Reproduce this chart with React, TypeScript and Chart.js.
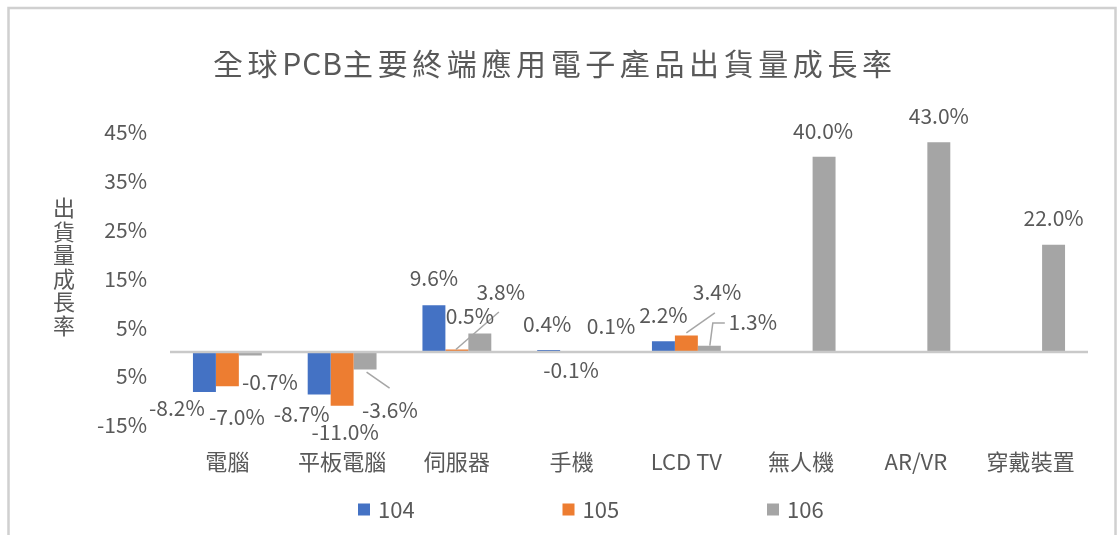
import React, { useEffect, useRef } from "react";
import { Chart, registerables } from "chart.js";

Chart.register(...registerables);

// ---- data ----
const categories = ["電腦", "平板電腦", "伺服器", "手機", "LCD TV", "無人機", "AR/VR", "穿戴裝置"];
const seriesNames = ["104", "105", "106"];
const values104: (number | null)[] = [-8.2, -8.7, 9.6, 0.4, 2.2, null, null, null];
const values105: (number | null)[] = [-7.0, -11.0, 0.5, -0.1, 3.4, null, null, null];
const values106: (number | null)[] = [-0.7, -3.6, 3.8, 0.1, 1.3, 40.0, 43.0, 22.0];
// tick labels as printed in the picture (bottom to top)
const yTickLabels = ["-15%", "5%", "5%", "15%", "25%", "35%", "45%"];
const chartTitle = "全球PCB主要終端應用電子產品出貨量成長率";
const yAxisTitle = "出貨量成長率";

// ---- styling / label layout ----
const FONT = "'Noto Sans CJK TC', 'Noto Sans', sans-serif";
const TEXT = "#595959";
const colors = ["#4472C4", "#ED7D31", "#A5A5A5"];

// data-label offsets (dx, dy) from the bar end, per series
const labelOffsets104 = [[-27.5, 16], [-17.5, 19.5], [0, -27], [-1.5, -26], [0, -26], null, null, null];
const labelOffsets105 = [[9.6, 31], [3, 26], [13, -33.6], [-0.6, 17.5], [30.6, -43.4], null, null, null];
const labelOffsets106 = [[19.6, 26.6], [24.8, 40.4], [21, -41.5], [16.4, -25.5], [43.5, -23.7], [-1, -25.8], [0, -26], [0, -27]];
const labelOffsets = [labelOffsets104, labelOffsets105, labelOffsets106];

// leader lines (relative to bar end)
const leaderLines = [
  { ds: 2, i: 1, pts: [[1.5, 2.5], [24.5, 18.5]] },
  { ds: 1, i: 2, pts: [[-1, 0], [42, -37.6]] },
  { ds: 1, i: 4, pts: [[0, -2.5], [28.5, -22.5]] },
  { ds: 2, i: 4, pts: [[0.5, 0], [3.5, -22.7], [15.5, -22.7]] },
];

const fmt = (v: number) => v.toFixed(1) + "%";

const decorPlugin = {
  id: "decor",
  beforeDraw(chart: any) {
    const { ctx, width, height } = chart;
    ctx.save();
    ctx.fillStyle = "#ffffff";
    ctx.fillRect(0, 0, width, height);
    ctx.strokeStyle = "#D0D0D0";
    ctx.lineWidth = 2.5;
    ctx.strokeRect(8.5, 8, 1107, 600);
    ctx.restore();
  },
  afterDatasetsDraw(chart: any) {
    const { ctx, chartArea } = chart;
    const y0 = chart.scales.y.getPixelForValue(0);
    ctx.save();
    // zero line
    ctx.strokeStyle = "#C9C9C9";
    ctx.lineWidth = 2.5;
    ctx.beginPath();
    ctx.moveTo(chartArea.left, y0);
    ctx.lineTo(chartArea.right, y0);
    ctx.stroke();

    // leader lines
    ctx.strokeStyle = "#A6A6A6";
    ctx.lineWidth = 1.5;
    for (const l of leaderLines) {
      const el = chart.getDatasetMeta(l.ds).data[l.i];
      if (!el) continue;
      ctx.beginPath();
      l.pts.forEach(([dx, dy], k) => {
        if (k === 0) ctx.moveTo(el.x + dx, el.y + dy);
        else ctx.lineTo(el.x + dx, el.y + dy);
      });
      ctx.stroke();
    }

    // data labels
    ctx.font = `21px ${FONT}`;
    ctx.fillStyle = TEXT;
    ctx.textAlign = "center";
    ctx.textBaseline = "middle";
    chart.data.datasets.forEach((ds: any, di: number) => {
      const meta = chart.getDatasetMeta(di);
      meta.data.forEach((el: any, i: number) => {
        const v = ds.data[i];
        const off = labelOffsets[di][i];
        if (v == null || !off) return;
        ctx.fillText(fmt(v), el.x + off[0], el.y + off[1]);
      });
    });
    ctx.restore();
  },
  afterDraw(chart: any) {
    const { ctx } = chart;
    ctx.save();
    ctx.fillStyle = TEXT;
    ctx.textBaseline = "middle";

    // title, drawn char by char with spacing (wider gaps for CJK glyphs)
    ctx.font = `30px ${FONT}`;
    ctx.textAlign = "left";
    let x = 213;
    for (const ch of chartTitle) {
      ctx.fillText(ch, x, 64);
      const isLatin = /[A-Za-z0-9]/.test(ch);
      x += ctx.measureText(ch).width + (isLatin ? 1 : 4.6);
    }

    // vertical y-axis title (stacked)
    ctx.font = `22px ${FONT}`;
    ctx.textAlign = "center";
    Array.from(yAxisTitle).forEach((ch, i) => {
      ctx.fillText(ch, 64, 207.7 + 23.5 * i);
    });

    // legend
    ctx.font = `22px ${FONT}`;
    ctx.textAlign = "left";
    seriesNames.forEach((name, i) => {
      const lx = 358 + 204.5 * i;
      ctx.fillStyle = colors[i];
      ctx.fillRect(lx, 503.5, 12, 12);
      ctx.fillStyle = TEXT;
      ctx.fillText(name, lx + 20, 509.5);
    });
    ctx.restore();
  },
};

export default function App() {
  const ref = useRef<HTMLCanvasElement | null>(null);
  useEffect(() => {
    if (!ref.current) return;
    const chart = new Chart(ref.current, {
      type: "bar",
      data: {
        labels: categories,
        datasets: [values104, values105, values106].map((d, i) => ({
          label: seriesNames[i],
          data: d,
          backgroundColor: colors[i],
          borderWidth: 0,
          categoryPercentage: 0.6,
          barPercentage: 1.0,
        })),
      },
      options: {
        animation: false,
        responsive: false,
        devicePixelRatio: 1,
        layout: { padding: { top: 132.4, right: 29, bottom: 0, left: 0 } },
        plugins: {
          legend: { display: false },
          title: { display: false },
          tooltip: { enabled: false },
        },
        scales: {
          x: {
            type: "category",
            offset: true,
            grid: { display: false, drawTicks: false },
            border: { display: false },
            ticks: {
              font: { family: FONT, size: 22 },
              color: TEXT,
              padding: 23.6,
              maxRotation: 0,
              autoSkip: false,
            },
            afterFit(s: any) {
              s.height = 109.8;
              s.paddingLeft = 0;
              s.paddingRight = 0;
            },
          },
          y: {
            min: -15,
            max: 45,
            grid: { display: false, drawTicks: false },
            border: { display: false },
            ticks: {
              stepSize: 10,
              font: { family: FONT, size: 21 },
              color: TEXT,
              padding: 23,
              callback: (_v: any, i: number) => yTickLabels[i],
            },
            afterFit(s: any) {
              s.width = 170;
              s.paddingTop = 0;
              s.paddingBottom = 0;
            },
          },
        },
      } as any,
      plugins: [decorPlugin],
    });
    return () => chart.destroy();
  }, []);
  return (
    <canvas
      ref={ref}
      width={1117}
      height={535}
      style={{ position: "absolute", left: 0, top: 0, width: 1117, height: 535 }}
    />
  );
}
